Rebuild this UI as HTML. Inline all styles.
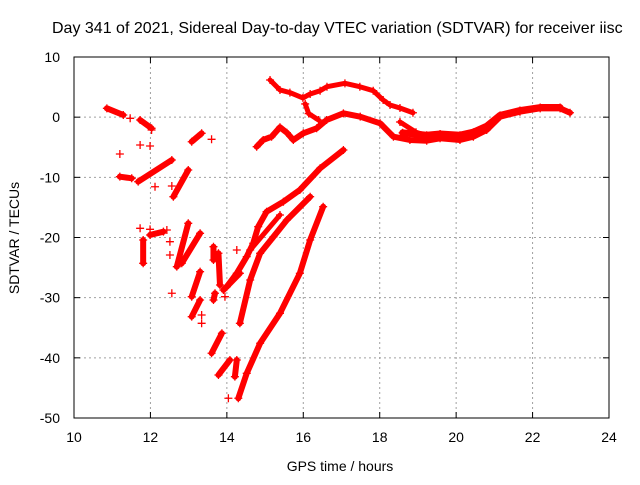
<!DOCTYPE html>
<html><head><meta charset="utf-8"><style>
body{margin:0;background:#fff}
svg text{font-family:"Liberation Sans",sans-serif;font-size:14px;fill:#000}
</style></head><body>
<svg id="chart" width="640" height="480" viewBox="0 0 640 480" xmlns="http://www.w3.org/2000/svg">
<text x="52" y="33" style="font-size:16px">Day 341 of 2021, Sidereal Day-to-day VTEC variation (SDTVAR) for receiver iisc</text>
<g id="grid"></g>
<g id="marks"></g>
<rect x="74" y="57" width="535" height="361" fill="none" stroke="#000" stroke-width="1"/>
<g id="axes"></g>
<text x="340" y="471" text-anchor="middle">GPS time / hours</text>
<text transform="translate(19,238) rotate(-90)" text-anchor="middle">SDTVAR / TECUs</text>
</svg>
<script>
const xTicks=[10,12,14,16,18,20,22,24];
const yTicks=[10,0,-10,-20,-30,-40,-50];
const trackA=[[15.13,6.18],[15.39,4.52],[15.65,4.08],[15.99,3.20],[16.18,3.86],[16.44,4.40],[16.62,5.06],[17.09,5.62],[17.48,5.06],[17.83,4.40],[18.09,2.85],[18.27,2.02],[18.53,1.52],[18.87,0.74]];
const trackB=[[14.78,-4.91],[14.95,-3.79],[15.17,-3.25],[15.39,-1.68],[15.57,-2.58],[15.74,-3.79],[16.00,-2.68],[16.35,-1.85],[16.61,-0.47],[17.05,0.64],[17.49,0.08],[18.01,-1.02],[18.36,-3.25],[18.79,-3.79],[19.23,-3.91],[19.58,-3.51],[20.10,-3.79],[20.45,-3.25],[20.80,-2.13],[21.15,0.08],[21.67,0.91],[22.20,1.47],[22.72,1.47],[22.98,0.74]];
const trackBwide=[[18.6,-2.6],[19.23,-3.0],[19.58,-2.8],[20.10,-3.0],[20.45,-2.5],[20.80,-1.5],[21.15,0.3],[21.67,1.1],[22.20,1.6],[22.72,1.6]];
const trackB2=[[16.05,2.2],[16.14,0.6],[16.40,-0.47]];
const trackB3=[[18.53,-0.8],[18.95,-2.5],[19.3,-3.2]];
const band1=[[17.05,-5.46],[16.44,-8.50],[15.91,-12.10],[15.48,-14.05],[15.04,-15.71],[14.82,-18.20],[14.69,-20.96],[14.52,-23.18],[14.26,-25.95],[14.00,-28.18]];
const band2=[[16.18,-13.22],[15.57,-17.09],[15.22,-19.87],[14.87,-22.63],[14.61,-27.06],[14.34,-34.26]];
const band3=[[15.39,-16.26],[14.61,-22.08]];
const band4=[[16.52,-14.88],[16.18,-20.41],[15.91,-25.95],[15.39,-32.60],[14.87,-37.58],[14.52,-42.57],[14.30,-46.72]];
const clusterSegs=[[10.86,1.47,11.29,0.36],[11.73,-0.47,12.03,-1.85],[13.08,-4.08,13.34,-2.68],[11.20,-9.89,11.51,-10.16],[11.68,-10.72,12.56,-7.12],[12.60,-13.22,12.99,-8.78],[11.99,-19.58,12.34,-19.03],[11.81,-20.41,11.81,-24.29],[12.69,-24.85,12.99,-17.64],[12.82,-24.29,13.30,-19.30],[13.08,-29.84,13.30,-25.68],[13.08,-33.16,13.30,-30.39],[13.65,-21.53,13.65,-23.74],[13.78,-22.62,13.82,-27.89],[13.65,-30.39,13.69,-29.27],[13.91,-28.72,14.34,-25.95],[13.60,-39.24,13.87,-35.92],[13.78,-42.85,14.08,-40.36],[14.21,-43.13,14.26,-40.36]];
const scatterPts=[[11.47,-0.19],[12.03,-2.13],[11.73,-4.63],[11.99,-4.79],[11.20,-6.12],[13.60,-3.68],[12.12,-11.56],[12.56,-11.44],[11.73,-18.47],[11.99,-18.64],[12.43,-18.75],[12.51,-20.70],[12.51,-22.91],[12.56,-29.27],[13.34,-32.88],[13.34,-34.26],[13.95,-29.84],[14.26,-22.08],[14.04,-46.72]];

const NS='http://www.w3.org/2000/svg';
const X0=74,X1=609,Y0=57,Y1=418;
const xs=v=>X0+(v-10)/(24-10)*(X1-X0);
const ys=v=>Y0+(10-v)/(10-(-50))*(Y1-Y0);
function mk(tag,attrs,parent){const e=document.createElementNS(NS,tag);for(const k in attrs)e.setAttribute(k,attrs[k]);parent.appendChild(e);return e;}
const grid=document.getElementById('grid'),axes=document.getElementById('axes'),marks=document.getElementById('marks');
xTicks.forEach(t=>{const x=xs(t);
 if(t>10&&t<24){const g=mk('line',{x1:x,y1:Y0,x2:x,y2:Y1,stroke:'#a0a0a0','stroke-dasharray':'2,3'},grid);}
 const a=mk('line',{x1:x,y1:Y1,x2:x,y2:Y1-6,stroke:'#000'},axes);
 const b=mk('line',{x1:x,y1:Y0,x2:x,y2:Y0+6,stroke:'#000'},axes);
 const l=mk('text',{x:x,y:Y1+24,'text-anchor':'middle'},axes);l.textContent=t;});
yTicks.forEach(t=>{const y=ys(t);
 if(t<10&&t>-50){const g=mk('line',{x1:X0,y1:y,x2:X1,y2:y,stroke:'#a0a0a0','stroke-dasharray':'2,3'},grid);}
 const a=mk('line',{x1:X0,y1:y,x2:X0+6,y2:y,stroke:'#000'},axes);
 const b=mk('line',{x1:X1,y1:y,x2:X1-6,y2:y,stroke:'#000'},axes);
 const l=mk('text',{x:X0-14,y:y+5,'text-anchor':'end'},axes);l.textContent=t;});
function plus(h,v){const x=xs(h),y=ys(v);const p=mk('path',{d:`M${x-4} ${y}H${x+4}M${x} ${y-4}V${y+4}`,stroke:'#f00','stroke-width':1.3},marks);}
function track(arr,w,name){const pts=arr.map(p=>xs(p[0])+','+ys(p[1])).join(' ');
 const pl=mk('polyline',{points:pts,fill:'none',stroke:'#f00','stroke-width':w,'stroke-linejoin':'round','stroke-linecap':'round'},marks);
 
 arr.forEach(p=>plus(p[0],p[1]));}
track(trackA,5,'track-upper');
track(trackB,6,'track-main');
track(trackBwide,7,'track-main-upper-edge');
track(trackB2,5,'track-branch');
track(trackB3,5,'track-branch-2');
track(band1,6,'band-1');
track(band2,6,'band-2');
track(band3,5,'band-3');
track(band4,6,'band-4');
clusterSegs.forEach(s=>{track([[s[0],s[1]],[s[2],s[3]]],6,'cluster-segment');});
scatterPts.forEach(p=>plus(p[0],p[1]));
</script>
</body></html>
